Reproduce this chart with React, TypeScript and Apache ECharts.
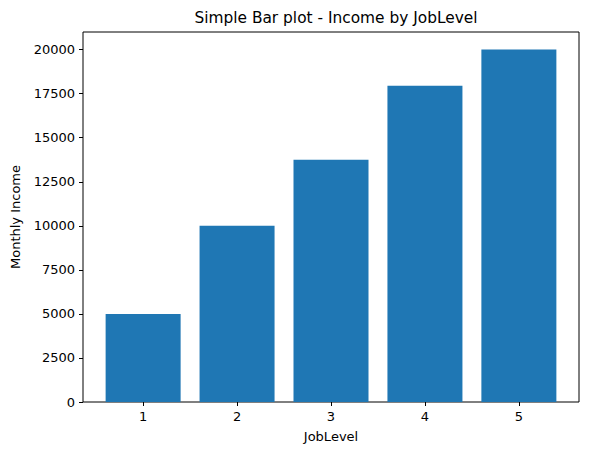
import React, { useEffect, useRef } from "react";
import * as echarts from "echarts";

const jobLevels = [1, 2, 3, 4, 5];
const monthlyIncome = [5000, 10000, 13750, 17950, 20000];
const yTicks = [0, 2500, 5000, 7500, 10000, 12500, 15000, 17500, 20000];
const FONT = "DejaVu Sans";

export default function App() {
  const ref = useRef<HTMLDivElement>(null);
  useEffect(() => {
    if (!ref.current) return;
    const chart = echarts.init(ref.current, null, { renderer: "svg" });
    chart.setOption({
      animation: false,
      textStyle: { fontFamily: FONT },
      title: {
        text: "Simple Bar plot - Income by JobLevel",
        left: 331,
        textAlign: "center",
        top: 5,
        textStyle: { fontFamily: FONT, fontSize: 15.4, fontWeight: "normal", color: "#000" },
      },
      grid: {
        left: 83,
        right: 10,
        top: 32,
        bottom: 53,
        show: true,
        borderColor: "#000",
        borderWidth: 1,
        backgroundColor: "transparent",
      },
      xAxis: {
        type: "value",
        min: 0.36,
        max: 5.64,
        name: "JobLevel",
        nameLocation: "middle",
        nameGap: 28,
        nameTextStyle: { fontFamily: FONT, fontSize: 13, color: "#000" },
        splitLine: { show: false },
        axisLine: { show: false },
        axisTick: { show: true, length: 4, lineStyle: { color: "#000" }, customValues: jobLevels },
        axisLabel: {
          fontFamily: FONT,
          fontSize: 13,
          color: "#000",
          margin: 8,
          customValues: jobLevels,
          formatter: (v: number) => String(v),
        },
      },
      yAxis: {
        type: "value",
        min: 0,
        max: 21000,
        name: "Monthly Income",
        nameLocation: "middle",
        nameGap: 61,
        nameTextStyle: { fontFamily: FONT, fontSize: 13, color: "#000" },
        splitLine: { show: false },
        axisLine: { show: false },
        axisTick: { show: true, length: 4, lineStyle: { color: "#000" }, customValues: yTicks },
        axisLabel: {
          fontFamily: FONT,
          fontSize: 13,
          color: "#000",
          margin: 8,
          customValues: yTicks,
          formatter: (v: number) => String(v),
        },
      },
      series: [
        {
          type: "bar",
          data: jobLevels.map((lv, i) => [lv, monthlyIncome[i]]),
          barWidth: 75,
          itemStyle: { color: "#1f77b4" },
        },
      ],
    });
    return () => chart.dispose();
  }, []);
  return <div ref={ref} style={{ width: 589, height: 455, position: "absolute", left: 0, top: 0, background: "#fff" }} />;
}
